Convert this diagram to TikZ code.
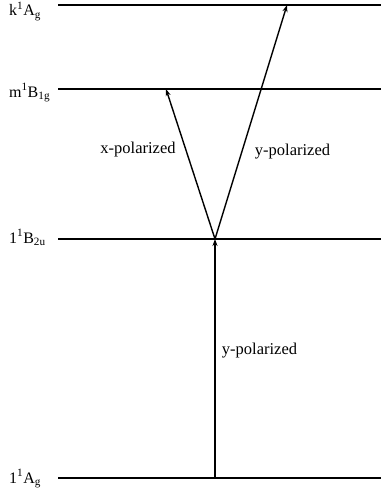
\documentclass[tikz,border=0pt]{standalone}
\usepackage{fontspec}
\setmainfont{Liberation Serif}
\usetikzlibrary{arrows.meta}
\newcommand{\lvlname}[4]{#1\textsuperscript{#2}#3\textsubscript{#4}}
\begin{document}
\begin{tikzpicture}[x=1pt,y=-1pt,
  level/.style={line width=1.5pt},
  trans/.style={line width=1.4pt,-{Stealth[length=7pt,width=5pt]}},
  lbl/.style={font=\fontsize{16.5}{18}\selectfont,anchor=base,inner sep=0pt},
  lvllbl/.style={font=\fontsize{16}{18}\selectfont,anchor=base west,inner sep=0pt}]
\useasboundingbox (0,0) rectangle (381,495);
% levels
\coordinate (kL) at (58,5);   \coordinate (kR) at (381,5);
\coordinate (mL) at (58,89);  \coordinate (mR) at (381,89);
\coordinate (bL) at (58,239); \coordinate (bR) at (381,239);
\coordinate (gL) at (58,478); \coordinate (gR) at (381,478);
\draw[level] (kL) -- (kR);
\draw[level] (mL) -- (mR);
\draw[level] (bL) -- (bR);
\draw[level] (gL) -- (gR);
\node[lvllbl] (kT) at (9,15.5) {\lvlname{k}{1}{A}{g}};
\node[lvllbl] (mT) at (9,97) {\lvlname{m}{1}{B}{1g}};
\node[lvllbl] (bT) at (9,243) {\lvlname{1}{1}{B}{2u}};
\node[lvllbl] (gT) at (9,483) {\lvlname{1}{1}{A}{g}};
% transitions
\coordinate (g0) at (215,478);
\coordinate (b0) at (215,239);
\coordinate (m0) at (166,89);
\coordinate (k0) at (287,5);
\draw[trans] (g0) -- (b0);
\draw[trans] (b0) -- (m0);
\draw[trans] (b0) -- (k0);
\node[lbl] (xp) at (138,153) {x-polarized};
\node[lbl] (yp1) at (292.5,155) {y-polarized};
\node[lbl] (yp2) at (259.5,354) {y-polarized};
\end{tikzpicture}
\end{document}
